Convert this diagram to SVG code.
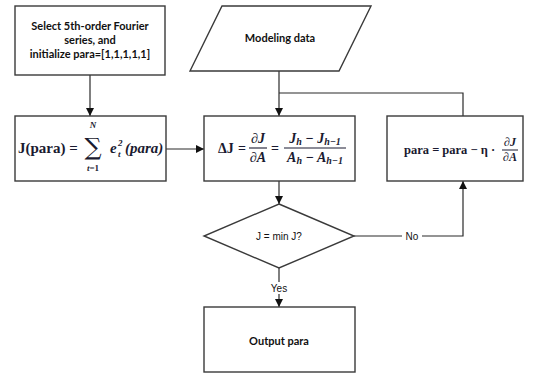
<svg xmlns="http://www.w3.org/2000/svg" width="539" height="376" viewBox="0 0 539 376">
<defs>
<marker id="ah" markerWidth="8" markerHeight="8" refX="8" refY="4" orient="auto" markerUnits="userSpaceOnUse">
<path d="M0,0 L8,4 L0,8 Z" fill="#111"/>
</marker>
<style>
.box{fill:#fff;stroke:#3a3a3a;stroke-width:1.4}
.ln{fill:none;stroke:#2a2a2a;stroke-width:1.2}
.lbl{font-family:Lato,"Open Sans",sans-serif;font-weight:bold;font-size:11px;fill:#111;text-anchor:middle}
.ar{font-family:"Liberation Sans",Arial,sans-serif;font-size:10px;fill:#111;text-anchor:middle}
.m{font-family:"Liberation Serif","Times New Roman",serif;font-weight:bold;fill:#1a1a30}
.i{font-style:italic}
</style>
</defs>
<rect width="539" height="376" fill="#fff"/>

<g id="connectors">
<line class="ln" x1="90" y1="75" x2="90" y2="116" marker-end="url(#ah)"/>
<line class="ln" x1="279" y1="71" x2="279" y2="116" marker-end="url(#ah)"/>
<polyline class="ln" points="463,116 463,93 279,93"/>
<line class="ln" x1="166" y1="149" x2="204" y2="149" marker-end="url(#ah)"/>
<line class="ln" x1="279" y1="181" x2="279" y2="204" marker-end="url(#ah)"/>
<polyline class="ln" points="354,236 463,236 463,181" marker-end="url(#ah)"/>
<line class="ln" x1="279" y1="268" x2="279" y2="307" marker-end="url(#ah)"/>
<rect x="402" y="230" width="20" height="12" fill="#fff"/>
<text class="ar" x="412" y="240">No</text>
<rect x="268" y="282" width="22" height="12" fill="#fff"/>
<text class="ar" x="279" y="292">Yes</text>
</g>

<g id="init">
<rect class="box" x="15" y="6" width="150" height="69"/>
<text class="lbl" x="90" y="30">Select 5th-order Fourier</text>
<text class="lbl" x="90" y="44">series, and</text>
<text class="lbl" x="90" y="58">initialize para=[1,1,1,1,1]</text>
</g>

<g id="modeling-data">
<polygon class="box" points="222,6 371,6 339,71 190,71"/>
<text class="lbl" x="280" y="42">Modeling data</text>
</g>

<g id="cost">
<rect class="box" x="15" y="116" width="151" height="65"/>
<text class="m" x="18" y="153" font-size="15">J(para) =</text>
<text x="93" y="155" font-family="DejaVu Serif,serif" font-size="24" fill="#1a1a30" text-anchor="middle">∑</text>
<text class="m i" x="93" y="128" font-size="9" text-anchor="middle">N</text>
<text class="m" x="93" y="171" font-size="9" text-anchor="middle"><tspan class="i">t</tspan>=1</text>
<text class="m i" x="110" y="153" font-size="15">e</text>
<text class="m i" x="118" y="146" font-size="9">2</text>
<text class="m i" x="118" y="157" font-size="9">t</text>
<text class="m i" x="125" y="153" font-size="15">(para)</text>
</g>

<g id="gradient">
<rect class="box" x="204" y="116" width="151" height="65"/>
<text class="m" x="218" y="153" font-size="14">ΔJ</text>
<text class="m" x="242" y="153" font-size="14" text-anchor="middle">=</text>
<text class="m i" x="258" y="143" font-size="14" text-anchor="middle">∂J</text>
<line x1="249" y1="148" x2="267" y2="148" stroke="#1a1a30" stroke-width="1.1"/>
<text class="m i" x="258" y="162" font-size="14" text-anchor="middle">∂A</text>
<text class="m" x="275" y="153" font-size="14" text-anchor="middle">=</text>
<text class="m i" x="315" y="143" font-size="14" text-anchor="middle">J<tspan font-size="10" dy="2">h</tspan><tspan dy="-2"> − J</tspan><tspan font-size="10" dy="2">h−1</tspan></text>
<line x1="284" y1="148" x2="346" y2="148" stroke="#1a1a30" stroke-width="1.1"/>
<text class="m i" x="315" y="162" font-size="14" text-anchor="middle">A<tspan font-size="10" dy="2">h</tspan><tspan dy="-2"> − A</tspan><tspan font-size="10" dy="2">h−1</tspan></text>
</g>

<g id="update">
<rect class="box" x="387" y="116" width="136" height="65"/>
<text class="m" x="404" y="154" font-size="12.5">para = para − η ·</text>
<text class="m i" x="510" y="146" font-size="12" text-anchor="middle">∂J</text>
<line x1="502" y1="150" x2="518" y2="150" stroke="#1a1a30" stroke-width="1"/>
<text class="m i" x="510" y="161" font-size="12" text-anchor="middle">∂A</text>
</g>

<g id="decision">
<polygon class="box" points="279,204 354,236 279,268 204,236"/>
<text class="ar" x="279" y="240">J = min J?</text>
</g>

<g id="output">
<rect class="box" x="204" y="307" width="151" height="65"/>
<text class="lbl" x="279" y="345">Output para</text>
</g>
</svg>
